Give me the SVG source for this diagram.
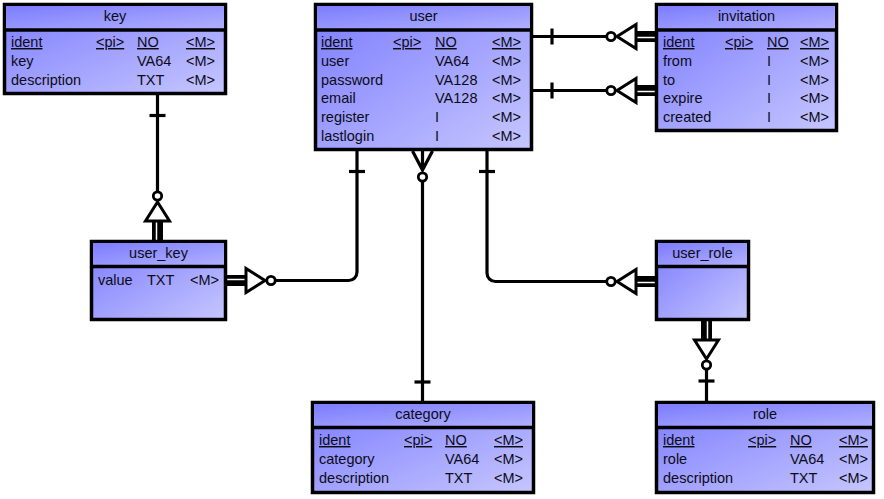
<svg xmlns="http://www.w3.org/2000/svg" xmlns:xlink="http://www.w3.org/1999/xlink" width="884" height="499" viewBox="0 0 884 499">
<style>
.box{stroke:#000;stroke-width:3.5;fill:url(#bodyGrad)}
.hdr{fill:url(#hdrGrad);stroke:none}
.sep{stroke:#000;stroke-width:3.5}
text{font-family:"Liberation Sans",Arial,sans-serif;font-size:14.5px;fill:#0c0c14}
.title{text-anchor:middle}
.u{text-decoration:underline}
.ln{fill:none;stroke:#000;stroke-width:3.2}
.tick{stroke:#000;stroke-width:3.2}
.bar{stroke:#000;stroke-width:11}
.barw{stroke:#fff;stroke-width:1.5}
.tri{fill:#fff;stroke:#000;stroke-width:3;stroke-linejoin:miter}
.circ{fill:#fff;stroke:#000;stroke-width:2.8}
</style>
<defs>
<linearGradient id="bodyGrad" x1="0" y1="0" x2="1" y2="1">
<stop offset="0" stop-color="#7c7cff"/>
<stop offset="1" stop-color="#c6c6ff"/>
</linearGradient>
<linearGradient id="hdrGrad" x1="0" y1="0" x2="1" y2="1">
<stop offset="0" stop-color="#7c7cff"/>
<stop offset="1" stop-color="#b0b0ff"/>
</linearGradient>
<g id="depMany">
<line class="bar" x1="0" y1="0" x2="19" y2="0"/>
<line class="barw" x1="0" y1="-1" x2="19" y2="-1"/>
<polygon class="tri" points="19,-12 19,12 38,0"/>
<circle class="circ" cx="44" cy="0" r="4.2"/>
</g>
<g id="many">
<path class="ln" d="M0,-10 L19,0 L0,10 M0,0 H19"/>
<circle class="circ" cx="26" cy="0" r="4.2"/>
</g>
</defs>

<g id="connectors">
<!-- key -> user_key -->
<path class="ln" d="M157.5,95 V192"/>
<line class="tick" x1="149.5" y1="115.5" x2="165.5" y2="115.5"/>
<use xlink:href="#depMany" transform="translate(157.5,240) rotate(-90)"/>
<!-- user -> user_key -->
<path class="ln" d="M357,151 V272 A8.5,8.5 0 0 1 348.5,280.5 H275"/>
<line class="tick" x1="349" y1="171.5" x2="365" y2="171.5"/>
<use xlink:href="#depMany" transform="translate(227,280.5)"/>
<!-- user -> invitation (1) -->
<path class="ln" d="M533,36.5 H607"/>
<line class="tick" x1="552" y1="28.5" x2="552" y2="44.5"/>
<use xlink:href="#depMany" transform="translate(655,36.5) rotate(180)"/>
<!-- user -> invitation (2) -->
<path class="ln" d="M533,90.5 H607"/>
<line class="tick" x1="552" y1="82.5" x2="552" y2="98.5"/>
<use xlink:href="#depMany" transform="translate(655,90.5) rotate(180)"/>
<!-- user -> category -->
<path class="ln" d="M422.5,181 V401"/>
<line class="tick" x1="414.5" y1="382" x2="430.5" y2="382"/>
<use xlink:href="#many" transform="translate(422.5,151) rotate(90)"/>
<!-- user -> user_role -->
<path class="ln" d="M487,151 V273 A8.5,8.5 0 0 0 495.5,281.5 H607"/>
<line class="tick" x1="479" y1="171.5" x2="495" y2="171.5"/>
<use xlink:href="#depMany" transform="translate(655,281.5) rotate(180)"/>
<!-- user_role -> role -->
<path class="ln" d="M706.5,369 V401"/>
<line class="tick" x1="698.5" y1="381" x2="714.5" y2="381"/>
<use xlink:href="#depMany" transform="translate(706.5,321) rotate(90)"/>
</g>

<g id="key">
<rect class="box" x="4.5" y="4.5" width="221" height="89"/>
<rect class="hdr" x="6" y="6" width="218" height="22.5"/>
<line class="sep" x1="3" y1="30" x2="227" y2="30"/>
<text class="title" x="115" y="20.5">key</text>
<text class="u" x="11" y="47">ident</text><text class="u" x="96" y="47">&lt;pi&gt;</text><text class="u" x="137" y="47">NO</text><text class="u" x="186" y="47">&lt;M&gt;</text>
<text x="11" y="65.8">key</text><text x="137" y="65.8">VA64</text><text x="186" y="65.8">&lt;M&gt;</text>
<text x="11" y="84.6">description</text><text x="137" y="84.6">TXT</text><text x="186" y="84.6">&lt;M&gt;</text>
</g>

<g id="user">
<rect class="box" x="315.5" y="4.5" width="216" height="145"/>
<rect class="hdr" x="317" y="6" width="213" height="22.5"/>
<line class="sep" x1="314" y1="30" x2="533" y2="30"/>
<text class="title" x="423.5" y="20.5">user</text>
<text class="u" x="321" y="47">ident</text><text class="u" x="393" y="47">&lt;pi&gt;</text><text class="u" x="435" y="47">NO</text><text class="u" x="492" y="47">&lt;M&gt;</text>
<text x="321" y="65.8">user</text><text x="435" y="65.8">VA64</text><text x="492" y="65.8">&lt;M&gt;</text>
<text x="321" y="84.6">password</text><text x="435" y="84.6">VA128</text><text x="492" y="84.6">&lt;M&gt;</text>
<text x="321" y="103.4">email</text><text x="435" y="103.4">VA128</text><text x="492" y="103.4">&lt;M&gt;</text>
<text x="321" y="122.2">register</text><text x="435" y="122.2">I</text><text x="492" y="122.2">&lt;M&gt;</text>
<text x="321" y="141">lastlogin</text><text x="435" y="141">I</text><text x="492" y="141">&lt;M&gt;</text>
</g>

<g id="invitation">
<rect class="box" x="656.5" y="4.5" width="180" height="126"/>
<rect class="hdr" x="658" y="6" width="177" height="22.5"/>
<line class="sep" x1="655" y1="30" x2="838" y2="30"/>
<text class="title" x="746.5" y="20.5">invitation</text>
<text class="u" x="663" y="47">ident</text><text class="u" x="725" y="47">&lt;pi&gt;</text><text class="u" x="767" y="47">NO</text><text class="u" x="800" y="47">&lt;M&gt;</text>
<text x="663" y="65.8">from</text><text x="767" y="65.8">I</text><text x="800" y="65.8">&lt;M&gt;</text>
<text x="663" y="84.6">to</text><text x="767" y="84.6">I</text><text x="800" y="84.6">&lt;M&gt;</text>
<text x="663" y="103.4">expire</text><text x="767" y="103.4">I</text><text x="800" y="103.4">&lt;M&gt;</text>
<text x="663" y="122.2">created</text><text x="767" y="122.2">I</text><text x="800" y="122.2">&lt;M&gt;</text>
</g>

<g id="user_key">
<rect class="box" x="91.5" y="241.5" width="134" height="78"/>
<rect class="hdr" x="93" y="243" width="131" height="22"/>
<line class="sep" x1="90" y1="266.5" x2="227" y2="266.5"/>
<text class="title" x="158.5" y="257.5">user_key</text>
<text x="98" y="284.5">value</text><text x="147" y="284.5">TXT</text><text x="190" y="284.5">&lt;M&gt;</text>
</g>

<g id="user_role">
<rect class="box" x="656.5" y="241.5" width="92" height="78"/>
<rect class="hdr" x="658" y="243" width="89" height="22"/>
<line class="sep" x1="655" y1="266.5" x2="750" y2="266.5"/>
<text class="title" x="702.5" y="257.5">user_role</text>
</g>

<g id="category">
<rect class="box" x="312.5" y="402.5" width="221" height="90"/>
<rect class="hdr" x="314" y="404" width="218" height="22"/>
<line class="sep" x1="311" y1="427.5" x2="535" y2="427.5"/>
<text class="title" x="423" y="418.5">category</text>
<text class="u" x="319" y="445">ident</text><text class="u" x="404" y="445">&lt;pi&gt;</text><text class="u" x="445" y="445">NO</text><text class="u" x="494" y="445">&lt;M&gt;</text>
<text x="319" y="463.8">category</text><text x="445" y="463.8">VA64</text><text x="494" y="463.8">&lt;M&gt;</text>
<text x="319" y="482.6">description</text><text x="445" y="482.6">TXT</text><text x="494" y="482.6">&lt;M&gt;</text>
</g>

<g id="role">
<rect class="box" x="656.5" y="402.5" width="217" height="90"/>
<rect class="hdr" x="658" y="404" width="214" height="22"/>
<line class="sep" x1="655" y1="427.5" x2="875" y2="427.5"/>
<text class="title" x="765" y="418.5">role</text>
<text class="u" x="663" y="445">ident</text><text class="u" x="748" y="445">&lt;pi&gt;</text><text class="u" x="790" y="445">NO</text><text class="u" x="839" y="445">&lt;M&gt;</text>
<text x="663" y="463.8">role</text><text x="790" y="463.8">VA64</text><text x="839" y="463.8">&lt;M&gt;</text>
<text x="663" y="482.6">description</text><text x="790" y="482.6">TXT</text><text x="839" y="482.6">&lt;M&gt;</text>
</g>
</svg>
